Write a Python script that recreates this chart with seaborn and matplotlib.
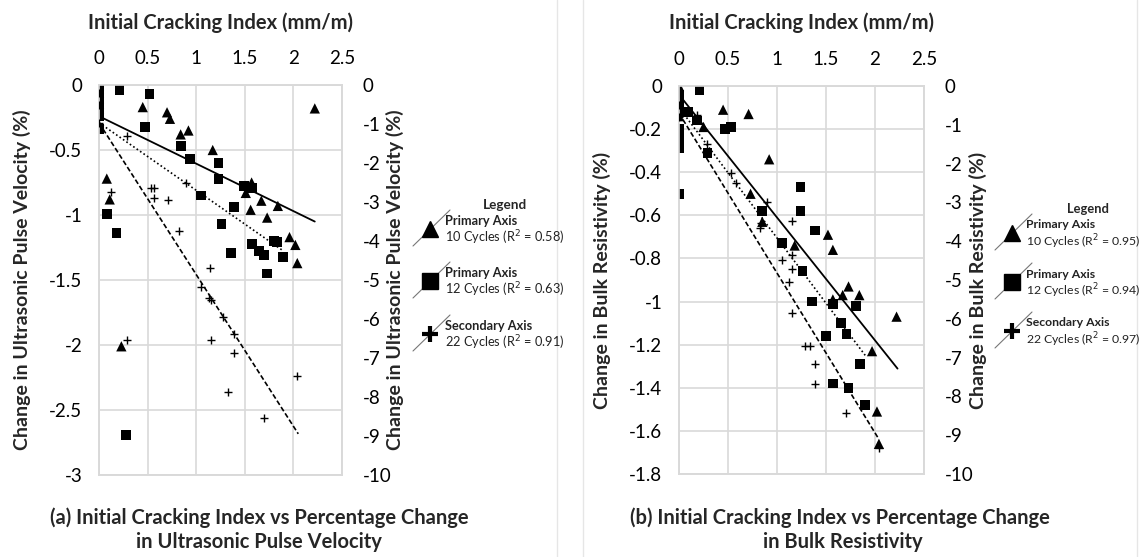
import numpy as np
import pandas as pd
import seaborn as sns
import matplotlib.pyplot as plt

# ---------- panel (a): ultrasonic pulse velocity ----------
upv10_x = [0, 0, 0, 0, 0, 0, 0, 0.08, 0.11, 0.23, 0.45, 0.70, 0.73, 0.84, 0.92, 1.17, 1.51,
           1.57, 1.56, 1.67, 1.73, 1.84, 1.96, 2.02, 2.04, 2.22]
upv10_y = [0, -0.03, -0.06, -0.10, -0.14, -0.18, -0.22, -0.72, -0.88, -2.01, -0.17, -0.21, -0.26,
           -0.38, -0.35, -0.50, -0.83, -0.75, -0.96, -0.89, -1.02, -0.93, -1.17, -1.23, -1.37, -0.18]
upv12_x = [0, 0, 0, 0, 0, 0, 0, 0.08, 0.18, 0.21, 0.28, 0.47, 0.52, 0.84, 0.94, 1.05, 1.23, 1.23,
           1.26, 1.36, 1.39, 1.49, 1.57, 1.57, 1.65, 1.70, 1.73, 1.80, 1.83, 1.89]
upv12_y = [-0.04, -0.08, -0.12, -0.16, -0.20, -0.24, -0.34, -0.99, -1.14, -0.04, -2.69, -0.32, -0.07,
           -0.47, -0.57, -0.85, -0.60, -0.72, -1.07, -1.29, -0.94, -0.78, -0.79, -1.22, -1.28, -1.31,
           -1.45, -1.20, -1.21, -1.32]
upv22_x = [0, 0, 0, 0.12, 0.29, 0.29, 0.53, 0.57, 0.57, 0.71, 0.82, 0.89, 1.05, 1.13, 1.14, 1.15,
           1.15, 1.28, 1.33, 1.39, 1.39, 1.70, 2.04]
upv22_y = [-0.2, -0.5, -0.97, -2.74, -1.31, -6.54, -2.65, -2.65, -2.90, -2.95, -3.74, -2.50, -5.17,
           -5.45, -4.68, -5.50, -6.54, -5.94, -7.87, -6.39, -6.87, -8.54, -7.46]

# ---------- panel (b): bulk resistivity ----------
br10_x = [0, 0, 0, 0.25, 0.45, 0.71, 0.73, 0.85, 0.92, 1.18, 1.52, 1.57, 1.57, 1.67, 1.73, 1.84,
          1.97, 2.02, 2.04, 2.22]
br10_y = [0, -0.07, -0.14, -0.19, -0.11, -0.13, -0.50, -0.63, -0.34, -0.74, -0.69, -0.76, -0.99,
          -0.97, -0.93, -0.97, -1.23, -1.51, -1.66, -1.07]
br12_x = [0, 0, 0, 0, 0, 0, 0, 0, 0, 0, 0, 0.09, 0.18, 0.21, 0.29, 0.47, 0.53, 0.85, 1.05, 1.24,
          1.24, 1.26, 1.36, 1.39, 1.50, 1.57, 1.57, 1.65, 1.71, 1.73, 1.81, 1.85, 1.90]
br12_y = [-0.04, -0.06, -0.08, -0.10, -0.12, -0.20, -0.22, -0.24, -0.26, -0.29, -0.50, -0.12, -0.16,
          -0.02, -0.31, -0.20, -0.19, -0.58, -0.73, -0.47, -0.58, -0.86, -1.00, -0.67, -1.16, -1.01,
          -1.38, -1.10, -1.15, -1.40, -1.02, -1.29, -1.48]
br22_x = [0, 0, 0.18, 0.29, 0.53, 0.58, 0.83, 0.84, 0.90, 1.05, 1.12, 1.15, 1.15, 1.15, 1.15, 1.29,
          1.34, 1.39, 1.39, 1.70, 2.04]
br22_y = [-0.5, -0.8, -0.75, -1.50, -2.24, -2.50, -3.66, -3.53, -2.99, -4.48, -5.05, -3.48, -4.36,
          -4.72, -5.85, -6.70, -6.70, -7.16, -7.68, -8.43, -9.33]

# linear trendlines: intercept, slope, x end
upv_trend_b = [-0.24, -0.29, -0.97]
upv_trend_m = [-0.365, -0.52, -3.89]
upv_trend_end = [2.22, 1.88, 2.05]
br_trend_b = [-0.04, -0.10, -0.70]
br_trend_m = [-0.57, -0.605, -4.12]
br_trend_end = [2.23, 1.90, 2.04]

x_ticks = [0, 0.5, 1, 1.5, 2, 2.5]
x_ticklabels = ["0", "0.5", "1", "1.5", "2", "2.5"]
upv_yticks = [0, -0.5, -1, -1.5, -2, -2.5, -3]
upv_yticklabels = ["0", "-0.5", "-1", "-1.5", "-2", "-2.5", "-3"]
br_yticks = [0, -0.2, -0.4, -0.6, -0.8, -1, -1.2, -1.4, -1.6, -1.8]
br_yticklabels = ["0", "-0.2", "-0.4", "-0.6", "-0.8", "-1", "-1.2", "-1.4", "-1.6", "-1.8"]
sec_yticks = [0, -1, -2, -3, -4, -5, -6, -7, -8, -9, -10]
sec_yticklabels = ["0", "-1", "-2", "-3", "-4", "-5", "-6", "-7", "-8", "-9", "-10"]

upv_r2 = ["0.58", "0.63", "0.91"]
br_r2 = ["0.95", "0.94", "0.97"]

sns.set_theme(style="white")
plt.rcParams["font.family"] = ["Lato", "DejaVu Sans"]

W, H = 1145, 557
fig = plt.figure(figsize=(W / 100, H / 100), dpi=100)

grid_c = "#d9d9d9"
trend_styles = ["-", (0, (1, 1.5)), (0, (3, 1.5))]


def make_panel(px_left, px_right, px_top, px_bottom, ylab_l, ylab_r, ylim, yticks, yticklabels,
               s10, s12, s22, tb, tm, tend, ylab):
    width = px_right - px_left
    ax = fig.add_axes([px_left / W, 1 - px_bottom / H, width / W, (px_bottom - px_top) / H])
    ax2 = ax.twinx()
    d10 = pd.DataFrame({"x": s10[0], "y": s10[1]})
    d12 = pd.DataFrame({"x": s12[0], "y": s12[1]})
    d22 = pd.DataFrame({"x": s22[0], "y": s22[1]})
    sns.scatterplot(data=d10, x="x", y="y", marker="^", s=55, color="black",
                    edgecolor="none", ax=ax, zorder=3)
    sns.scatterplot(data=d12, x="x", y="y", marker="s", s=50, color="black",
                    edgecolor="none", ax=ax, zorder=3)
    sns.scatterplot(data=d22, x="x", y="y", marker="+", s=32, color="black",
                    linewidth=1.0, ax=ax2, zorder=3)
    for i in range(3):
        xs = np.array([0, tend[i]])
        target = ax2 if i == 2 else ax
        target.plot(xs, tb[i] + tm[i] * xs, color="black", lw=1.3 if i == 0 else 1.2,
                    linestyle=trend_styles[i], zorder=2)

    ax.set_xlim(0, 2.5)
    ax.set_ylim(*ylim)
    ax2.set_ylim(-10, 0)
    ax.set_xticks(x_ticks)
    ax.set_xticklabels(x_ticklabels)
    ax.set_yticks(yticks)
    ax.set_yticklabels(yticklabels)
    ax2.set_yticks(sec_yticks)
    ax2.set_yticklabels(sec_yticklabels)
    ax.xaxis.tick_top()
    ax.xaxis.set_label_position("top")
    ax.grid(True, color=grid_c, lw=1.2)
    ax2.grid(False)
    for a in (ax, ax2):
        for sp in a.spines.values():
            sp.set_color(grid_c)
            sp.set_linewidth(1.2)
    ax.tick_params(axis="x", length=0, pad=13, labelsize=13.5, colors="black")
    ax.tick_params(axis="y", length=0, pad=12, labelsize=13.5, colors="black")
    ax2.tick_params(axis="y", length=0, pad=15, labelsize=13.5, colors="black")
    ax.set_xlabel("Initial Cracking Index (mm/m)", fontsize=14.5, fontweight="bold")
    ax.xaxis.set_label_coords(0.5, 1 + (px_top - 29) / (px_bottom - px_top))
    ax.set_ylabel(ylab, fontsize=14, fontweight="bold", va="center")
    ax.yaxis.set_label_coords((ylab_l - px_left) / width, 0.5)
    ax2.set_ylabel(ylab, fontsize=14, fontweight="bold", va="center", rotation=90)
    ax2.yaxis.set_label_coords((ylab_r - px_left) / width, 0.5)
    ax.set_axisbelow(True)
    return ax, ax2


make_panel(99, 342, 85, 475, 22, 395, (-3, 0), upv_yticks, upv_yticklabels,
           (upv10_x, upv10_y), (upv12_x, upv12_y), (upv22_x, upv22_y),
           upv_trend_b, upv_trend_m, upv_trend_end,
           "Change in Ultrasonic Pulse Velocity (%)")
make_panel(679, 924, 86, 474, 602, 978, (-1.8, 0), br_yticks, br_yticklabels,
           (br10_x, br10_y), (br12_x, br12_y), (br22_x, br22_y),
           br_trend_b, br_trend_m, br_trend_end,
           "Change in Bulk Resistivity (%)")

# overlay in pixel coordinates for legends, captions and frame lines
ov = fig.add_axes([0, 0, 1, 1], zorder=-1)
ov.set_xlim(0, W)
ov.set_ylim(H, 0)
ov.axis("off")
ov.plot([557, 557], [0, H], color="#e6e6e6", lw=1)
ov.plot([583, 583], [0, H], color="#e6e6e6", lw=1)
ov.plot([1137, 1137], [0, H], color="#e6e6e6", lw=1)

fig_ov = fig.add_axes([0, 0, 1, 1], zorder=5)
fig_ov.set_xlim(0, W)
fig_ov.set_ylim(H, 0)
fig_ov.axis("off")


def draw_legend(x_marker, x_text, x_title, y_title, ys, r2, fs):
    fig_ov.text(x_title, y_title, "Legend", fontsize=fs + 0.5, fontweight="bold",
                ha="center", va="center")
    names = ["Primary Axis", "Primary Axis", "Secondary Axis"]
    cycles = ["10", "12", "22"]
    markers = ["^", "s", "P"]
    for i in range(3):
        ym = ys[i]
        fig_ov.plot([x_marker - 17, x_marker + 20], [ym + 17, ym - 19], color="#777777", lw=0.8)
        if i == 2:
            fig_ov.plot([x_marker], [ym], marker="+", ms=11, mew=3, color="black")
        else:
            fig_ov.plot([x_marker], [ym], marker=markers[i], ms=12, color="black")
        fig_ov.text(x_text, ym - 8, names[i], fontsize=fs, fontweight="bold",
                    ha="left", va="center", color="#222222")
        fig_ov.text(x_text, ym + 9, f"{cycles[i]} Cycles (R$^2$ = {r2[i]})", fontsize=fs,
                    ha="left", va="center", color="#222222")


draw_legend(430, 445, 505, 205, [229, 281, 334], upv_r2, 9.2)
draw_legend(1012, 1026, 1088, 209, [233, 282, 331], br_r2, 8.8)

cap_kw = dict(fontsize=14.5, fontweight="bold", ha="center", va="center")
fig_ov.text(259, 518, "(a) Initial Cracking Index vs Percentage Change", **cap_kw)
fig_ov.text(259, 542, "in Ultrasonic Pulse Velocity", **cap_kw)
fig_ov.text(840, 518, "(b) Initial Cracking Index vs Percentage Change", **cap_kw)
fig_ov.text(843, 542, "in Bulk Resistivity", **cap_kw)

fig.savefig("out.png", dpi=100)
